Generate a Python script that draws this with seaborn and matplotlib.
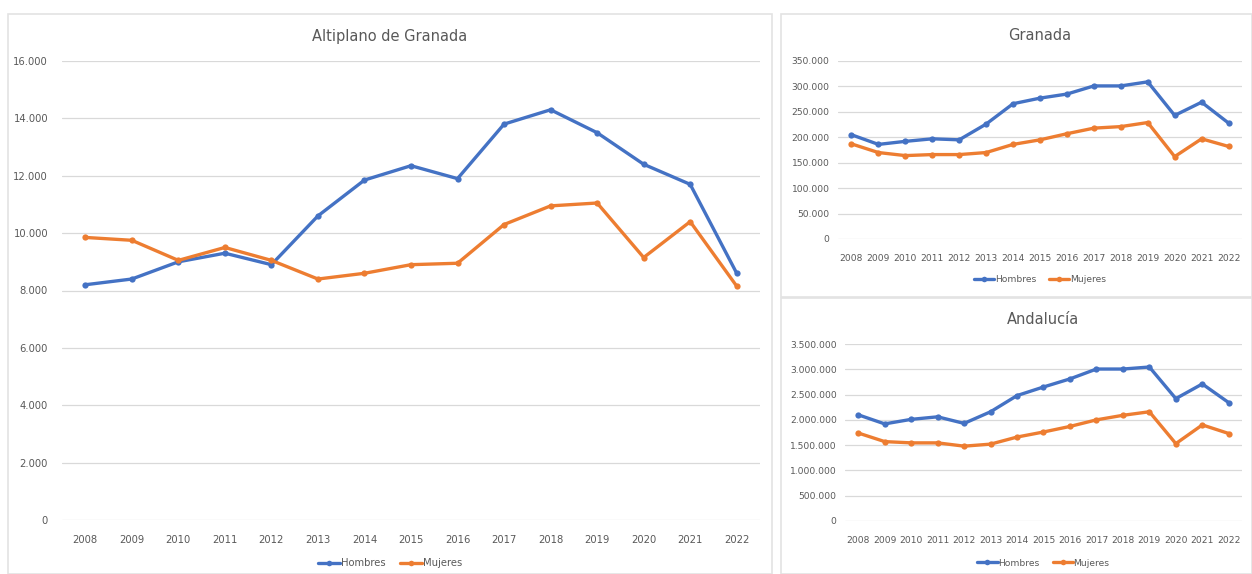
import matplotlib
matplotlib.use("Agg")
import matplotlib.pyplot as plt
from matplotlib.patches import Rectangle
from matplotlib.lines import Line2D
from matplotlib.ticker import FuncFormatter
import seaborn as sns
import pandas as pd

years = list(range(2008, 2023))
series_names = ["Hombres", "Mujeres"]

altiplano_hombres = [8200, 8400, 9000, 9300, 8900, 10600, 11850, 12350, 11900, 13800, 14300, 13500, 12400, 11700, 8600]
altiplano_mujeres = [9850, 9750, 9050, 9500, 9050, 8400, 8600, 8900, 8950, 10300, 10950, 11050, 9150, 10400, 8150]

granada_hombres = [205000, 186000, 192000, 197000, 195000, 226000, 266000, 277000, 285000, 301000, 301000, 309000, 243000, 269000, 228000]
granada_mujeres = [187000, 170000, 164000, 166000, 166000, 170000, 186000, 195000, 207000, 218000, 221000, 229000, 162000, 197000, 182000]

andalucia_hombres = [2100000, 1920000, 2010000, 2060000, 1930000, 2160000, 2480000, 2650000, 2810000, 3005000, 3005000, 3045000, 2420000, 2710000, 2340000]
andalucia_mujeres = [1740000, 1570000, 1545000, 1545000, 1480000, 1520000, 1660000, 1760000, 1870000, 2000000, 2090000, 2160000, 1530000, 1900000, 1730000]

titles = ["Altiplano de Granada", "Granada", "Andalucía"]
ylims = [(0, 16000, 2000), (0, 350000, 50000), (0, 3500000, 500000)]

BLUE = "#4472C4"
ORANGE = "#ED7D31"
GRAY_TXT = "#595959"
GRID = "#D9D9D9"

sns.set_theme(style="white")
plt.rcParams["font.family"] = ["DejaVu Sans"]

W, H = 1252, 574
fig = plt.figure(figsize=(W / 100, H / 100), dpi=100)
fig.patch.set_facecolor("white")

def px_rect(x0, y0, x1, y1):
    # pixel coords (top-left origin) -> figure fraction [l, b, w, h]
    return [x0 / W, 1 - y1 / H, (x1 - x0) / W, (y1 - y0) / H]

# panel frames
for (x0, y0, x1, y1) in [(8, 14, 772, 574), (781, 14, 1252, 297), (781, 298, 1252, 574)]:
    l, b, w, h = px_rect(x0, y0, x1, y1)
    fig.patches.append(Rectangle((l, b), w, h, transform=fig.transFigure,
                                 fill=False, edgecolor="#E3E3E3", linewidth=1.2))

def fmt(v, pos):
    return f"{int(round(v)):,}".replace(",", ".")

panels = [
    (altiplano_hombres, altiplano_mujeres, (62, 61, 760, 520), 36, 536, 563, 7.2, 10.5),
    (granada_hombres, granada_mujeres, (838, 61, 1242, 239), 35, 255, 280, 6.6, 10.5),
    (andalucia_hombres, andalucia_mujeres, (845, 344, 1242, 521), 319, 537, 563, 6.6, 10.5),
]

for i, (h_vals, m_vals, box, ty, xl_y, leg_y, fs, tfs) in enumerate(panels):
    df = pd.DataFrame({
        "Año": years * 2,
        "Valor": h_vals + m_vals,
        "Sexo": [series_names[0]] * len(years) + [series_names[1]] * len(years),
    })
    ax = fig.add_axes(px_rect(*box))
    sns.lineplot(data=df, x="Año", y="Valor", hue="Sexo", palette=[BLUE, ORANGE],
                 marker="o", markersize=4.5, markeredgewidth=0, linewidth=2.4,
                 ax=ax, legend=False)
    lo, hi, step = ylims[i]
    ax.set_ylim(lo, hi)
    ax.set_yticks(list(range(lo, hi + 1, step)))
    ax.yaxis.set_major_formatter(FuncFormatter(fmt))
    ax.set_xlim(years[0] - 0.5, years[-1] + 0.5)
    ax.set_xticks(years)
    ax.set_xticklabels([str(y) for y in years])
    ax.set_xlabel("")
    ax.set_ylabel("")
    for s in ax.spines.values():
        s.set_visible(False)
    ax.grid(axis="y", color=GRID, linewidth=0.9)
    ax.set_axisbelow(True)
    ax.tick_params(axis="both", length=0, colors=GRAY_TXT, labelsize=fs)
    ax.tick_params(axis="x", pad=(xl_y - box[3]) - 5)
    ax.tick_params(axis="y", pad=10 if i == 0 else 6)
    # title
    cx = (box[0] + box[2]) / 2
    if i == 0:
        cx = 390
    fig.text(cx / W, 1 - ty / H, titles[i], ha="center", va="center",
             fontsize=tfs, color=GRAY_TXT)
    # legend
    handles = [Line2D([0], [0], color=BLUE, lw=2.4, marker="o", markersize=4, markeredgewidth=0),
               Line2D([0], [0], color=ORANGE, lw=2.4, marker="o", markersize=4, markeredgewidth=0)]
    leg = fig.legend(handles, series_names, loc="center",
                     bbox_to_anchor=(((box[0] + box[2]) / 2) / W if i else 390 / W, 1 - leg_y / H),
                     ncol=2, frameon=False, fontsize=fs, handlelength=2.2,
                     handletextpad=0.1, columnspacing=1.4, labelcolor=GRAY_TXT)

fig.savefig("out.png", dpi=100, facecolor="white")
